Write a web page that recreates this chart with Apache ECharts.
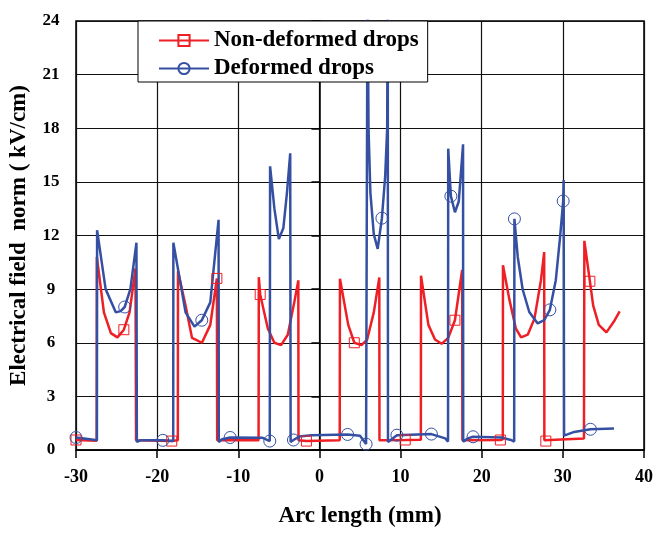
<!DOCTYPE html>
<html>
<head>
<meta charset="utf-8">
<style>
    html, body {margin: 0; padding: 0; background: #fff;}
    #efn {width: 656px; height: 533px;}
</style>
<script src="https://cdn.jsdelivr.net/npm/echarts@6/dist/echarts.min.js"></script>
</head>
<body>
<div id="efn"></div>
<script>
// Non-deformed drops (red)
var nonDefX = [-30, -27.45, -27.43, -26.56, -25.7, -24.9, -24.1, -23.4, -22.67, -22.6,
    -18.2, -17.45, -17.43, -16.5, -15.7, -14.48, -13.45, -12.64, -12.6,
    -7.5, -7.47, -7.3, -6.36, -5.55, -4.73, -3.9, -3.1, -2.6, -2.58, -1.6,
    2.5, 2.53, 3.55, 4.3, 5.18, 5.88, 6.7, 7.38, 7.4, 10.57,
    12.5, 12.52, 13.43, 14.24, 15.06, 15.87, 16.7, 17.59, 17.62, 22.3,
    22.6, 22.62, 23.4, 24.2, 24.85, 25.67, 26.5, 27.3, 27.7, 27.72, 27.9,
    32.6, 32.65, 33.33, 33.74, 34.43, 35.37, 36.27, 37.0];
var nonDefY = [0.56, 0.52, 10.8, 7.7, 6.54, 6.3, 6.73, 7.7, 10.16, 0.55,
    0.5, 0.55, 10.0, 8.08, 6.27, 6.0, 7.0, 9.6, 0.55,
    0.55, 9.67, 8.7, 6.8, 6.0, 5.87, 6.45, 8.26, 9.49, 0.55, 0.5,
    0.55, 9.58, 7.0, 6.0, 5.87, 6.18, 7.7, 9.65, 0.55, 0.56,
    0.58, 9.75, 7.0, 6.18, 5.94, 6.27, 7.26, 10.07, 0.55, 0.56,
    0.6, 10.34, 8.44, 6.81, 6.3, 6.45, 7.35, 9.5, 11.07, 0.55, 0.5,
    0.65, 11.7, 9.44, 8.08, 7.0, 6.58, 7.17, 7.75];
var nonDefMark = [0, 6, 10, 17, 21, 29, 33, 39, 46, 49, 60, 63];

// Deformed drops (blue)
var defX = [-30, -28.5, -27.42, -27.4, -26.35, -25.1, -24.5, -24.0, -23.3, -22.55, -22.5, -22.0,
    -19.3, -18.02, -18.0, -16.5, -15.4, -14.5, -13.45, -12.43, -12.4, -12.0,
    -11.0, -7.0, -6.12, -6.08, -5.55, -5.0, -4.45, -4.0, -3.6, -3.55,
    -3.2, -2.5, -1.0, 3.47, 5.0, 5.75, 5.9, 5.93, 6.05, 6.28, 6.7, 7.18, 7.7, 8.1, 8.35, 8.42, 8.45,
    8.5, 9.55, 13.8, 15.5, 15.85, 15.87, 16.2, 16.7, 17.17, 17.7, 17.72, 18.3,
    18.93, 22.4, 23.6, 24.0, 24.03, 24.44, 25.05, 25.86, 26.9, 27.7, 28.4, 29.13, 29.65,
    30.04, 30.1, 30.15, 31.4, 33.4, 36.3];
var defY = [0.7, 0.62, 0.55, 12.3, 9.0, 7.7, 7.77, 8.0, 9.0, 11.6, 0.45, 0.55,
    0.54, 0.5, 11.6, 7.7, 6.9, 7.26, 8.26, 12.88, 0.45, 0.6,
    0.7, 0.68, 0.5, 15.87, 13.5, 11.8, 12.4, 14.4, 16.6, 0.45,
    0.56, 0.75, 0.82, 0.87, 0.8, 0.33, 0.4, 27, 18, 14.4, 12.07, 11.25, 12.97, 15.3, 18, 27, 0.45,
    0.5, 0.83, 0.89, 0.65, 0.47, 16.86, 14.2, 13.3, 13.9, 17.1, 0.47, 0.65,
    0.74, 0.7, 0.56, 0.47, 12.93, 10.8, 8.98, 7.72, 7.08, 7.26, 7.84, 9.5, 11.88,
    13.93, 15.1, 0.8, 1.01, 1.16, 1.2];
var defMark = [0, 7, 12, 17, 22, 24, 32, 35, 37, 44, 50, 51, 55, 61, 65, 71, 74, 78];

var xTicks = [-30, -20, -10, 0, 10, 20, 30, 40];
var yTicks = [0, 3, 6, 9, 12, 15, 18, 21, 24];

var red = '#ee1f25';
var blue = '#3550a2';
var font = '"Liberation Serif", "Times New Roman", serif';

function buildData(xs, ys, marks, sym) {
    var out = [];
    for (var i = 0; i < xs.length; i++) {
        out.push({value: [xs[i], ys[i]], symbol: marks.indexOf(i) >= 0 ? sym : 'none'});
    }
    return out;
}

var chart = echarts.init(document.getElementById('efn'));
var option = {
    animation: false,
    backgroundColor: '#fff',
    grid: {
        left: 72,
        right: 12,
        top: 21,
        bottom: 71,
        show: true,
        borderColor: '#000',
        borderWidth: 1.5
    },
    legend: {
        orient: 'vertical',
        left: 138,
        top: 21,
        backgroundColor: '#fff',
        borderColor: '#000',
        borderWidth: 1,
        padding: [8, 9, 2, 20],
        itemGap: 5,
        itemWidth: 50,
        itemHeight: 14,
        textStyle: {
            fontFamily: font,
            fontWeight: 'bold',
            fontSize: 23,
            color: '#000'
        },
        data: ['Non-deformed drops', 'Deformed drops']
    },
    xAxis: {
        type: 'value',
        min: -30,
        max: 40,
        interval: 10,
        name: 'Arc length (mm)',
        nameLocation: 'middle',
        nameGap: 55,
        nameTextStyle: {fontFamily: font, fontWeight: 'bold', fontSize: 23, color: '#000'},
        axisLine: {onZero: false, lineStyle: {color: '#000', width: 1.5}},
        axisTick: {show: true, inside: false, length: 8, lineStyle: {color: '#000', width: 1.5}},
        axisLabel: {
            margin: 18,
            fontFamily: font, fontWeight: 'bold', fontSize: 18, color: '#000',
            formatter: function (v) {
                return xTicks.indexOf(v) >= 0 ? String(v) : '';
            }
        },
        splitLine: {show: true, lineStyle: {color: '#111', width: 1.2}}
    },
    yAxis: {
        type: 'value',
        min: 0,
        max: 24,
        interval: 3,
        name: 'Electrical field  norm ( kV/cm)',
        nameLocation: 'middle',
        nameGap: 45,
        nameRotate: 90,
        nameTextStyle: {fontFamily: font, fontWeight: 'bold', fontSize: 23, color: '#000'},
        axisLine: {show: true, lineStyle: {color: '#000', width: 1.5}},
        axisTick: {show: true, inside: false, length: 8, lineStyle: {color: '#000', width: 1.5}},
        axisLabel: {
            margin: 25,
            align: 'center',
            fontFamily: font, fontWeight: 'bold', fontSize: 17, color: '#000',
            formatter: function (v) {
                return yTicks.indexOf(v) >= 0 ? String(v) : '';
            }
        },
        splitLine: {show: true, lineStyle: {color: '#111', width: 1.2}}
    },
    series: [
        {
            name: 'Non-deformed drops',
            type: 'line',
            symbol: 'rect',
            symbolSize: 10,
            showSymbol: true,
            clip: true,
            itemStyle: {color: 'rgba(255,255,255,0)', borderColor: red, borderWidth: 1},
            lineStyle: {color: red, width: 2.5},
            data: buildData(nonDefX, nonDefY, nonDefMark, 'rect')
        },
        {
            name: 'Deformed drops',
            type: 'line',
            symbol: 'circle',
            symbolSize: 12,
            showSymbol: true,
            clip: true,
            itemStyle: {color: 'rgba(255,255,255,0)', borderColor: blue, borderWidth: 1},
            lineStyle: {color: blue, width: 2.5},
            data: buildData(defX, defY, defMark, 'circle')
        }
    ]
};
chart.setOption(option);
</script>
</body>
</html>
